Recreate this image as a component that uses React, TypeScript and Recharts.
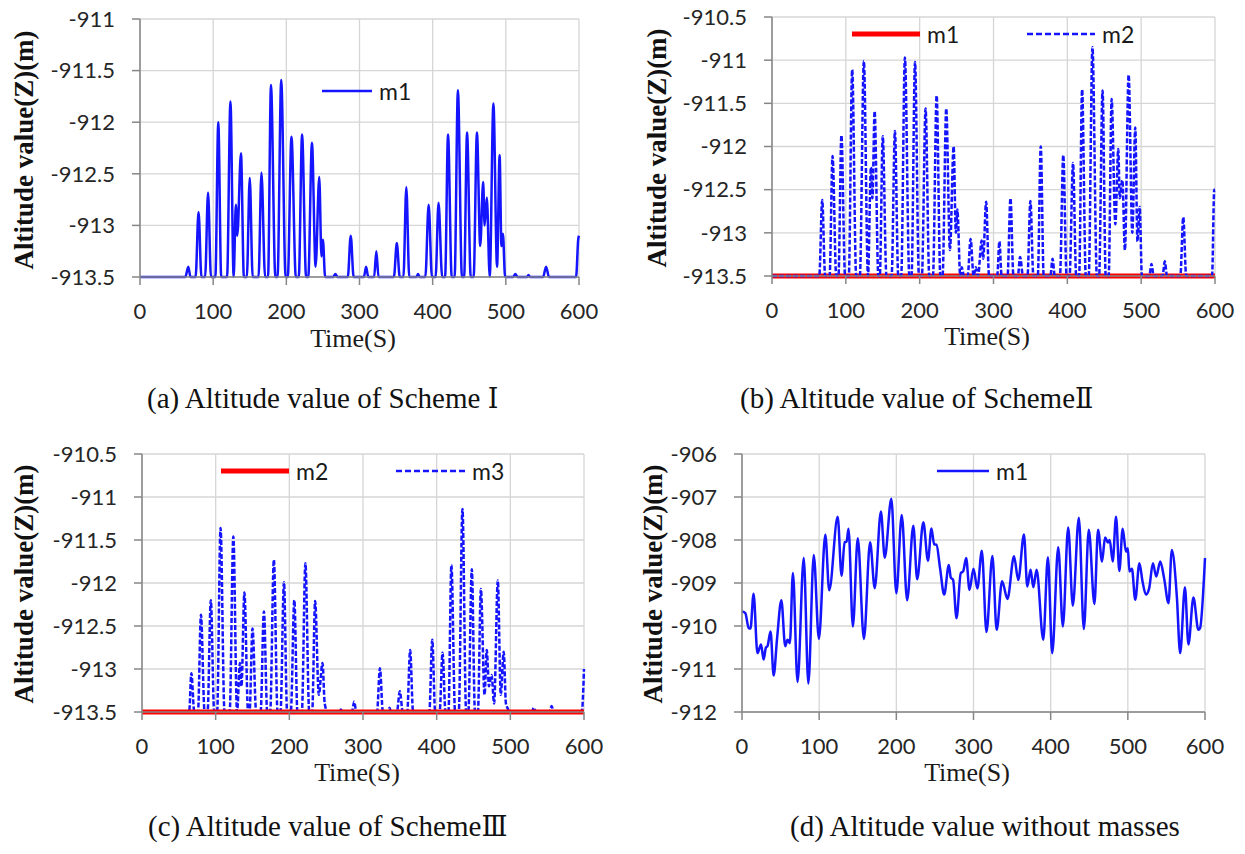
import React from 'react';
import { LineChart, Line, XAxis, YAxis, CartesianGrid } from 'recharts';

// time axis, shared by all four panels
const timeTicks = [0, 100, 200, 300, 400, 500, 600];
const schemeTicks1 = [-913.5, -913, -912.5, -912, -911.5, -911];
const schemeTicks23 = [-913.5, -913, -912.5, -912, -911.5, -911, -910.5];
const freeTicks = [-912, -911, -910, -909, -908, -907, -906];

// (a) Scheme I, m1  [time, altitude]
const aM1: [number, number][] = [
  [0, -913.5], [62, -913.5], [66, -913.4], [69, -913.5], [76, -913.5], [80, -912.87], [84, -913.5],
  [89, -913.5], [93, -912.68], [97, -913.5], [103, -913.5], [107, -912.0], [111, -913.5], [119, -913.5],
  [123.6, -911.8], [128, -913.5], [131, -912.8], [133, -913.1], [138, -912.3], [142, -913.5], [146, -913.5],
  [150, -912.54], [154, -913.5], [162, -913.5], [166, -912.49], [171, -913.5], [175, -913.5], [179, -911.64],
  [185, -913.5], [188, -913.5], [193, -911.59], [199, -913.5], [202, -913.5], [207, -912.14], [213, -913.5],
  [217, -913.5], [221.5, -912.12], [227, -913.5], [230, -913.5], [235, -912.2], [240, -913.4], [245, -912.53],
  [248, -913.3], [250, -913.14], [253, -913.5], [264, -913.5], [267, -913.47], [270, -913.5], [284, -913.5],
  [288, -913.1], [292, -913.5], [306, -913.5], [309, -913.4], [312, -913.5], [320, -913.5], [323, -913.25],
  [326, -913.5], [347, -913.5], [351, -913.17], [355, -913.5], [360, -913.5], [364, -912.63], [368, -913.5],
  [378, -913.5], [380, -913.47], [382, -913.5], [390, -913.5], [394.5, -912.8], [399, -913.5], [404, -913.5],
  [408, -912.78], [413, -913.5], [417, -913.5], [421, -912.12], [426, -913.5], [430, -913.5], [434.5, -911.69],
  [440, -913.5], [443, -913.5], [447, -912.1], [452, -913.5], [456, -913.5], [460.5, -912.1], [465, -913.2],
  [469, -912.58], [471, -913.0], [474, -912.73], [478, -913.5], [483, -911.82], [488, -913.4], [491.5, -912.32],
  [494, -913.2], [496, -913.08], [499, -913.5], [510, -913.5], [513, -913.47], [516, -913.5], [529, -913.5],
  [531, -913.48], [533, -913.5], [551, -913.5], [555, -913.4], [559, -913.5], [596, -913.5], [599, -913.13],
  [600, -913.1],
];

// (b) Scheme II: m1 stays on the ground, m2 bounces
const bM1: [number, number][] = [[0, -913.5], [600, -913.5]];
const bM2: [number, number][] = [
  [0, -913.5], [64, -913.5], [68, -912.62], [72, -913.5], [78, -913.5], [82, -912.11], [87, -913.5],
  [90, -913.5], [94, -911.87], [99, -913.5], [104, -913.5], [108.6, -911.11], [114, -913.5], [119, -913.5],
  [124.4, -911.01], [130, -913.5], [134, -912.24], [136, -912.6], [139, -911.59], [144, -913.5], [146, -913.5],
  [150, -911.88], [155, -913.5], [162, -913.5], [166.5, -911.82], [171, -913.5], [175, -913.5], [180, -910.97],
  [186, -913.5], [189, -913.5], [193.7, -911.02], [199, -913.5], [203, -913.5], [208, -911.56], [213, -913.5],
  [218, -913.5], [223, -911.41], [228, -913.5], [231, -913.5], [236, -911.56], [241, -913.2], [246, -912.0],
  [249, -913.0], [251, -912.73], [255, -913.5], [257, -913.4], [260, -913.5], [265, -913.5], [269, -913.07],
  [273, -913.5], [276, -913.4], [279, -913.5], [284, -913.09], [286, -913.3], [290, -912.64], [294, -913.5],
  [305, -913.5], [308, -913.1], [311, -913.5], [319, -913.5], [323, -912.6], [327, -913.5], [333, -913.5],
  [336, -913.28], [340, -913.5], [346, -913.5], [350, -912.63], [354, -913.5], [360, -913.5], [364, -912.0],
  [368, -913.5], [377, -913.5], [380, -913.3], [383, -913.5], [390, -913.5], [394.5, -912.1], [399, -913.5],
  [403, -913.5], [407.7, -912.19], [412, -913.5], [416, -913.5], [420, -911.34], [425, -913.5], [429, -913.5],
  [434, -910.85], [440, -913.5], [443, -913.5], [447.7, -911.35], [452, -913.5], [456, -913.5], [460, -911.45],
  [465, -912.9], [469, -912.03], [471, -912.6], [474.5, -912.39], [478, -913.2], [483, -911.17], [488, -913.0],
  [492, -911.78], [495, -913.1], [498, -912.7], [501, -913.5], [511, -913.5], [514, -913.36], [517, -913.5],
  [529, -913.5], [532, -913.33], [535, -913.5], [553, -913.5], [557, -912.82], [561, -913.5], [596, -913.5],
  [599, -912.5], [600, -912.5],
];

// (c) Scheme III: m2 stays on the ground, m3 bounces
const cM2: [number, number][] = [[0, -913.5], [600, -913.5]];
const cM3: [number, number][] = [
  [0, -913.5], [64, -913.5], [67, -913.05], [71, -913.5], [76, -913.5], [80, -912.37], [85, -913.5],
  [89, -913.5], [93.4, -912.2], [98, -913.5], [102, -913.5], [106.6, -911.36], [112, -913.5], [119, -913.5],
  [124, -911.46], [129, -913.5], [133, -912.93], [135, -913.2], [139, -912.11], [144, -913.5], [146, -913.5],
  [150, -912.53], [155, -913.5], [161, -913.5], [165.5, -912.33], [170, -913.5], [174, -913.5], [179, -911.73],
  [184, -913.5], [188, -913.5], [192.7, -911.99], [197, -913.5], [202, -913.5], [206.8, -912.2], [211, -913.5],
  [217, -913.5], [221.8, -911.77], [227, -913.5], [231, -913.5], [235, -912.21], [240, -913.3], [245, -912.93],
  [248, -913.4], [252, -913.5], [268, -913.5], [270, -913.47], [272, -913.5], [285, -913.5], [288, -913.38],
  [291, -913.5], [319, -913.5], [323, -912.99], [327, -913.5], [334, -913.5], [336, -913.45], [338, -913.5],
  [346, -913.5], [350, -913.26], [354, -913.5], [360, -913.5], [364, -912.78], [368, -913.5], [390, -913.5],
  [394, -912.66], [398, -913.5], [404, -913.5], [408, -912.81], [412, -913.5], [416, -913.5], [420, -911.79],
  [425, -913.5], [430, -913.5], [435, -911.14], [440, -913.5], [443, -913.5], [447.7, -911.84], [452, -913.5],
  [456, -913.5], [460, -912.07], [465, -913.3], [468, -912.78], [471, -913.2], [474.5, -913.07], [478, -913.4],
  [483, -911.97], [487, -913.3], [491, -912.8], [494, -913.4], [496, -913.45], [499, -913.5], [529, -913.5],
  [532, -913.45], [535, -913.5], [553, -913.5], [556, -913.43], [559, -913.5], [597, -913.5], [600, -913.0],
];

// (d) without masses, m1
const dM1: [number, number][] = [
  [0, -909.66], [4.3, -909.7], [8.7, -910.05], [11, -910.06], [15, -909.25], [20, -910.63], [24.7, -910.43],
  [28, -910.78], [31, -910.5], [33, -910.47], [37, -910.13], [41, -911.15], [45.5, -910.28], [51, -909.4],
  [56, -910.47], [59, -910.32], [62, -910.4], [66, -908.77], [72, -911.3], [80, -908.42], [86, -911.34],
  [93, -908.35], [99.6, -910.3], [108, -907.88], [113, -909.17], [124, -907.46], [129, -908.83], [133, -908.05],
  [135.5, -908.04], [138, -907.74], [143.7, -910.01], [150, -907.96], [158, -910.3], [166, -908.05], [172, -909.12],
  [180, -907.34], [185, -908.41], [193.5, -907.04], [200, -909.24], [207, -907.42], [214, -909.4], [222, -907.67],
  [227, -908.91], [235, -907.59], [241, -908.48], [245.5, -907.73], [249, -908.1], [252, -908.11], [256.7, -908.66],
  [262, -909.27], [268, -908.58], [270.5, -908.87], [273.6, -908.93], [278, -909.82], [283.5, -908.77],
  [286.6, -908.73], [290.5, -908.42], [294.8, -909.16], [300, -908.67], [305, -909.13], [310.8, -908.25],
  [316.8, -910.14], [324.5, -908.37], [330, -910.09], [337, -908.96], [344, -909.37], [352.5, -908.38],
  [358, -908.93], [365.4, -907.87], [369.7, -909.08], [374, -908.69], [377.5, -909.1], [381.8, -908.69],
  [390.4, -910.32], [396.4, -908.4], [402, -910.63], [409.8, -908.17], [415.8, -910.01], [422.7, -907.71],
  [428.7, -909.53], [436.5, -907.48], [443, -910.07], [449.4, -907.76], [456.7, -909.49], [461.4, -907.76],
  [466.6, -908.5], [470.5, -907.94], [474.3, -908.06], [476.5, -908.0], [480.4, -908.5], [484.7, -907.46],
  [489, -908.72], [493.3, -907.74], [497.6, -908.27], [500, -908.19], [502, -908.73], [505.3, -908.67],
  [509.6, -909.39], [515, -908.54], [519, -908.96], [523.4, -909.27], [527.7, -909.12], [532.5, -908.54],
  [536.8, -908.85], [542, -908.5], [547, -908.89], [552.7, -909.47], [557, -908.23], [563.5, -909.31],
  [567.8, -910.63], [574, -909.1], [578.5, -910.43], [585, -909.34], [591.4, -910.09], [593.6, -910.05],
  [600, -908.42],
];

const BLUE = '#1414ff';
const RED = '#ff0000';
const AXIS = '#868686';
const GRID = '#d6d6d6';
const tickFont = { fontFamily: 'Lato, sans-serif', fontSize: 22, fill: '#262626' };
const serif = '"Liberation Serif", "Times New Roman", serif';
const numeralFont = '"DejaVu Serif", "Noto Sans CJK JP", serif';

const pts = (arr: [number, number][]) => arr.map(([t, v]) => ({ t, v }));

function Panel({ left, top, width, marginRight, marginTop, xHeight, yDomain, yTicks, children }: any) {
  return (
    <div style={{ position: 'absolute', left, top }}>
      <LineChart width={width} height={360} margin={{ top: marginTop, right: marginRight, bottom: 0, left: 0 }}>
        <CartesianGrid stroke={GRID} strokeWidth={1.3} />
        <XAxis
          type="number"
          dataKey="t"
          domain={[0, 600]}
          ticks={timeTicks}
          interval={0}
          height={xHeight}
          stroke={AXIS}
          strokeWidth={1.5}
          tickSize={8}
          tickMargin={18}
          tick={tickFont}
        />
        <YAxis
          type="number"
          domain={yDomain}
          ticks={yTicks}
          interval={0}
          width={142}
          stroke={AXIS}
          strokeWidth={1.5}
          tickSize={8}
          tickMargin={17}
          tick={tickFont}
        />
        {children}
      </LineChart>
    </div>
  );
}

function YTitle({ x, y }: { x: number; y: number }) {
  return (
    <text transform={`translate(${x},${y}) rotate(-90)`} textAnchor="middle"
      fontFamily={serif} fontWeight="bold" fontSize={27} fill="#111">
      Altitude value(Z)(m)
    </text>
  );
}

function TimeTitle({ x, y }: { x: number; y: number }) {
  return <text x={x} y={y} textAnchor="middle" fontFamily={serif} fontSize={26} fill="#1a1a1a">Time(S)</text>;
}

function Caption({ x, y, text, numeral }: any) {
  return (
    <text x={x} y={y} fontFamily={serif} fontSize={29} fill="#111">
      {text}
      {numeral ? <tspan fontFamily={numeralFont} fontSize={27}>{numeral}</tspan> : null}
    </text>
  );
}

function LegendItem({ x1, x2, y, color, width, dash, label }: any) {
  return (
    <g>
      <line x1={x1} x2={x2} y1={y} y2={y} stroke={color} strokeWidth={width} strokeDasharray={dash} />
      <text x={x2 + 7} y={y + 9} fontFamily="Lato, sans-serif" fontSize={23} fill="#1a1a1a">{label}</text>
    </g>
  );
}

export default function App() {
  return (
    <div style={{ position: 'absolute', left: 0, top: 0, width: 1245, height: 854, background: '#fff', overflow: 'hidden' }}>
      <Panel left={-2} top={0} width={620} marginRight={39} marginTop={19} xHeight={83}
        yDomain={[-913.5, -911]} yTicks={schemeTicks1}>
        <Line data={pts(aM1)} dataKey="v" type="monotone" stroke={BLUE} strokeWidth={2.5} dot={false} isAnimationActive={false} />
      </Panel>
      <Panel left={630} top={0} width={615} marginRight={30} marginTop={17} xHeight={84}
        yDomain={[-913.5, -910.5]} yTicks={schemeTicks23}>
        <Line data={pts(bM1)} dataKey="v" type="linear" stroke={RED} strokeWidth={5} dot={false} isAnimationActive={false} />
        <Line data={pts(bM2)} dataKey="v" type="monotone" stroke={BLUE} strokeWidth={2.5} strokeDasharray="5 2" dot={false} isAnimationActive={false} />
      </Panel>
      <Panel left={0} top={437} width={620} marginRight={36} marginTop={17} xHeight={85}
        yDomain={[-913.5, -910.5]} yTicks={schemeTicks23}>
        <Line data={pts(cM3)} dataKey="v" type="monotone" stroke={BLUE} strokeWidth={2.5} strokeDasharray="5 2" dot={false} isAnimationActive={false} />
        <Line data={pts(cM2)} dataKey="v" type="linear" stroke={RED} strokeWidth={5} dot={false} isAnimationActive={false} />
      </Panel>
      <Panel left={600} top={437} width={640} marginRight={35} marginTop={17} xHeight={85}
        yDomain={[-912, -906]} yTicks={freeTicks}>
        <Line data={pts(dM1)} dataKey="v" type="monotone" stroke={BLUE} strokeWidth={2.5} dot={false} isAnimationActive={false} />
      </Panel>

      <svg width={1245} height={854} style={{ position: 'absolute', left: 0, top: 0, pointerEvents: 'none' }}>
        <YTitle x={33} y={150} />
        <YTitle x={666} y={148} />
        <YTitle x={33} y={584} />
        <YTitle x={662} y={584} />

        <TimeTitle x={353} y={347} />
        <TimeTitle x={987} y={345} />
        <TimeTitle x={357} y={781} />
        <TimeTitle x={967} y={781} />

        <LegendItem x1={322} x2={372} y={91} color={BLUE} width={2.5} label="m1" />
        <LegendItem x1={852} x2={920} y={34} color={RED} width={5} label="m1" />
        <LegendItem x1={1027} x2={1095} y={34} color={BLUE} width={2.5} dash="6 3" label="m2" />
        <LegendItem x1={221} x2={289} y={471} color={RED} width={5} label="m2" />
        <LegendItem x1={396} x2={465} y={471} color={BLUE} width={2.5} dash="6 3" label="m3" />
        <LegendItem x1={937} x2={989} y={471} color={BLUE} width={2.5} label="m1" />

        <Caption x={147} y={408} text="(a) Altitude value of Scheme " numeral="Ⅰ" />
        <Caption x={740} y={408} text="(b) Altitude value of Scheme" numeral="Ⅱ" />
        <Caption x={148} y={836} text="(c) Altitude value of Scheme" numeral="Ⅲ" />
        <Caption x={790} y={836} text="(d) Altitude value without masses" />
      </svg>
    </div>
  );
}
